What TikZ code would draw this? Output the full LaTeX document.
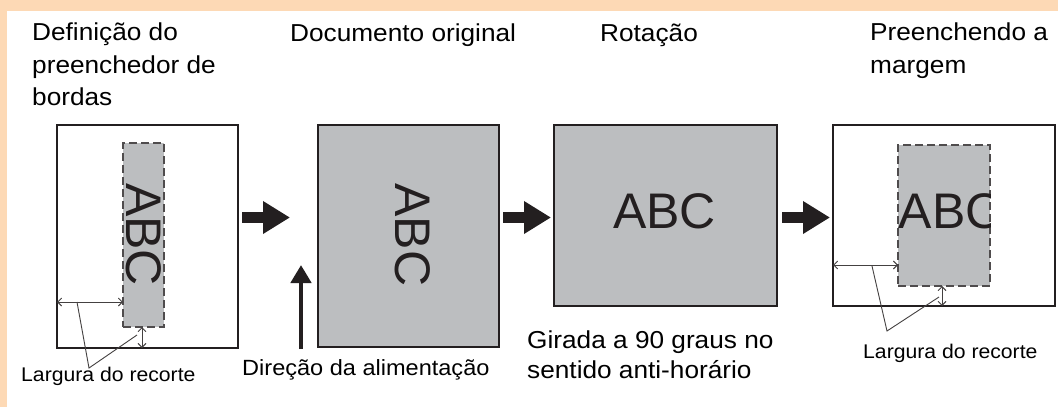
\documentclass[tikz,border=0pt]{standalone}
\usepackage{fontspec}
\setmainfont{Liberation Sans}
\newfontfamily\labfont[FakeStretch=1.07]{Liberation Sans}
\usetikzlibrary{arrows.meta}
\definecolor{peach}{HTML}{FDD9B5}
\definecolor{paper}{HTML}{BCBEC0}
\definecolor{ink}{HTML}{231F20}
\begin{document}
\begin{tikzpicture}[x=1pt,y=-1pt,
  sheet/.style={draw=ink, line width=2pt, anchor=north west, inner sep=0pt, outer sep=0pt},
  cropbox/.style={draw=ink!80, fill=paper, line width=1.2pt, dash pattern=on 8pt off 4pt, anchor=north west, inner sep=0pt, outer sep=0pt},
  title/.style={inner sep=0pt, anchor=base west, font=\labfont\fontsize{24.5}{32.5}\selectfont},
  note/.style={inner sep=0pt, anchor=base west, font=\labfont\fontsize{19.8}{22}\selectfont},
  abc/.style={inner sep=0pt, font=\fontsize{50}{50}\selectfont, text=ink},
  bigarrow/.style={draw=ink, line width=11pt, -{Triangle[length=27pt,width=31pt]}},
  dim/.style={draw=ink!85, line width=0.9pt, {Straight Barb[length=4pt,width=8pt]}-{Straight Barb[length=4pt,width=8pt]}},
  leader/.style={draw=ink!85, line width=0.9pt}]
\useasboundingbox (0,0) rectangle (1058,407);
\fill[peach] (0,0) rectangle (1058,407);
\fill[white] (7,11) rectangle (1058,407);

% titles
\node[title] (t1) at (32,40.5) {\parbox[t]{220pt}{\raggedright Definição do\\preenchedor de\\bordas}};
\node[title] (t2) at (290,41.5) {Documento original};
\node[title] (t3) at (600,41.5) {Rotação};
\node[title] (t4) at (870,40.7) {\parbox[t]{220pt}{\raggedright Preenchendo a\\margem}};

% sheets
\node[sheet, minimum width=181pt, minimum height=223pt] (b1) at (57,125) {};
\node[sheet, fill=paper, minimum width=181pt, minimum height=222pt] (b2) at (318,125) {};
\node[sheet, fill=paper, minimum width=223pt, minimum height=181pt] (b3) at (554,125) {};
\node[sheet, minimum width=222pt, minimum height=181pt] (b4) at (833,125) {};

% crop areas
\node[cropbox, minimum width=41pt, minimum height=184pt] (c1) at (123,143) {};
\node[cropbox, minimum width=92pt, minimum height=141pt] (c4) at (898,145) {};

% ABC texts
\node[abc, rotate=-90] (a1) at (143.5,234.5) {ABC};
\node[abc, rotate=-90] (a2) at (412.5,235) {ABC};
\node[abc, anchor=base] (a3) at (664.5,228) {ABC};
\begin{scope}
  \clip (c4.north west) rectangle (c4.south east);
  \node[abc, anchor=base west] (a4) at (898.5,228) {ABC};
\end{scope}

% flow arrows
\coordinate (f1s) at (242,217.5);
\coordinate (f1e) at (290,217.5);
\draw[bigarrow] (f1s) -- (f1e);
\draw[bigarrow] ([xshift=4pt]b2.east |- f1s) -- ([xshift=-3pt]b3.west |- f1s);
\draw[bigarrow] ([xshift=5pt]b3.east |- f1s) -- ([xshift=-3pt]b4.west |- f1s);

% feed direction
\coordinate (up0) at (301,349);
\coordinate (up1) at (301,265);
\draw[draw=ink, line width=4.5pt, -{Triangle[length=18pt,width=20pt]}] (up0) -- (up1);
\node[title, font=\labfont\fontsize{22}{25}\selectfont] (feed) at (242,375) {Direção da alimentação};

% rotation note
\node[title] (rot) at (527,348) {\parbox[t]{300pt}{\fontsize{24.5}{30}\selectfont\raggedright Girada a 90 graus no\\sentido anti-horário}};

% dimensions sheet 1
\coordinate (h1) at (0,302);
\coordinate (v1) at (142,0);
\draw[dim] (b1.west |- h1) -- (c1.west |- h1);
\draw[dim] (c1.south -| v1) -- (b1.south -| v1);
\coordinate (l1a) at (77,302);
\coordinate (l1b) at (89,368);
\coordinate (l1c) at (137,335);
\draw[leader] (l1a) -- (l1b) -- (l1c);
\node[note] (n1) at (21,381) {Largura do recorte};

% dimensions sheet 4
\coordinate (h4) at (0,265);
\coordinate (v4) at (942,0);
\draw[dim] (b4.west |- h4) -- (c4.west |- h4);
\draw[dim] (c4.south -| v4) -- (b4.south -| v4);
\coordinate (l4a) at (872,266);
\coordinate (l4b) at (887,331);
\coordinate (l4c) at (939,297);
\draw[leader] (l4a) -- (l4b) -- (l4c);
\node[note] (n4) at (863,358) {Largura do recorte};
\end{tikzpicture}
\end{document}
